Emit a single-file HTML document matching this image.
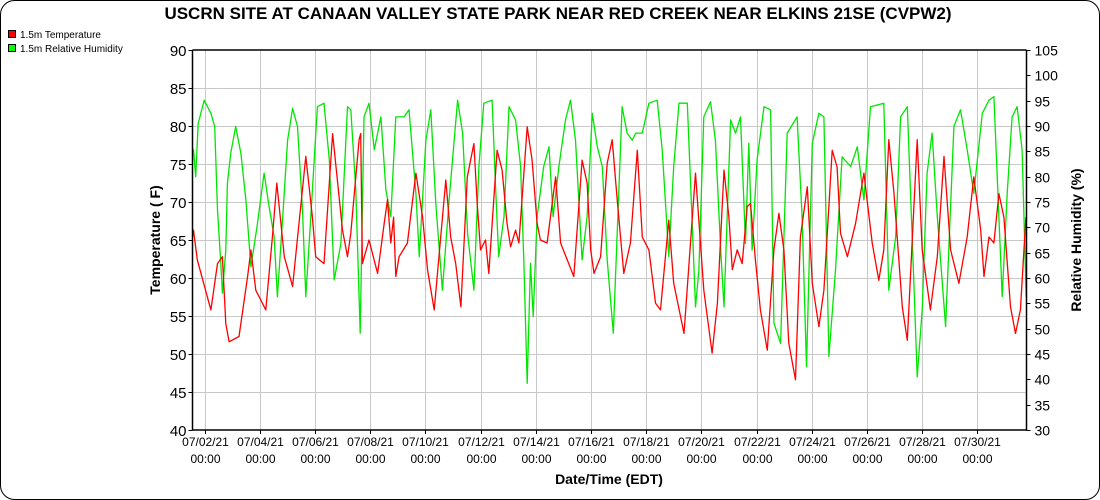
<!DOCTYPE html>
<html><head><meta charset="utf-8">
<style>
html,body{margin:0;padding:0;background:#fff;}
#wrap{position:relative;width:1100px;height:500px;overflow:hidden;}
svg text{font-family:"Liberation Sans",Arial,sans-serif;}
</style></head>
<body>
<div id="wrap">
<svg id="chart" width="1100" height="500" xmlns="http://www.w3.org/2000/svg">
  <rect x="0.5" y="0.5" width="1099" height="499" rx="14" ry="14" fill="#fff" stroke="#000" stroke-width="1"/>
  <text x="558" y="19" text-anchor="middle" font-size="17" font-weight="bold">USCRN SITE AT CANAAN VALLEY STATE PARK NEAR RED CREEK NEAR ELKINS 21SE (CVPW2)</text>
  <g>
    <g>
      <rect x="8.5" y="30.5" width="7" height="7" fill="#f00" stroke="#000" stroke-width="1"/>
      <text x="20" y="38" font-size="10">1.5m Temperature</text>
    </g>
    <g>
      <rect x="8.5" y="44.5" width="7" height="7" fill="#0f0" stroke="#000" stroke-width="1"/>
      <text x="20" y="52" font-size="10">1.5m Relative Humidity</text>
    </g>
  </g>
  <g id="grid"></g>
  <g id="series"></g>
  <g id="axes"></g>
  <text transform="translate(160,240) rotate(-90)" text-anchor="middle" font-size="14" font-weight="bold">Temperature ( F)</text>
  <text transform="translate(1081,240) rotate(-90)" text-anchor="middle" font-size="14" font-weight="bold">Relative Humidity (%)</text>
  <text x="609" y="484" text-anchor="middle" font-size="14" font-weight="bold">Date/Time (EDT)</text>
</svg>
</div>
<script>
// days since 07/01/21 00:00
const tempDays = [0.57,0.60,0.74,1.23,1.47,1.65,1.77,1.89,2.25,2.56,2.68,2.86,3.22,3.46,3.62,3.89,4.19,4.67,4.91,5.03,5.33,5.64,6.00,6.18,6.30,6.60,6.66,6.72,6.96,7.27,7.51,7.63,7.75,7.85,7.93,8.05,8.35,8.66,8.90,9.08,9.32,9.74,9.92,10.10,10.29,10.52,10.76,10.88,11.00,11.18,11.30,11.60,11.78,11.96,12.09,12.27,12.39,12.69,12.87,13.05,13.17,13.41,13.72,13.90,14.14,14.38,14.68,14.86,14.99,15.11,15.35,15.59,15.77,15.95,16.19,16.43,16.68,16.86,17.10,17.34,17.52,17.82,18.00,18.25,18.37,18.79,19.09,19.39,19.58,19.82,20.00,20.12,20.30,20.48,20.66,20.78,20.96,21.14,21.39,21.63,21.81,21.99,22.17,22.41,22.59,22.84,23.02,23.26,23.44,23.74,23.92,24.04,24.29,24.59,24.89,25.19,25.43,25.61,25.79,25.98,26.28,26.46,26.82,27.00,27.30,27.55,27.79,28.03,28.33,28.63,28.87,29.12,29.24,29.42,29.60,29.78,29.96,30.20,30.38,30.56,30.76];
const tempVals = [65.5,66.3,62.4,55.8,61.9,62.8,54.0,51.6,52.3,60.2,63.7,58.4,55.8,65.4,72.5,62.8,58.9,76.0,68.0,62.8,61.9,79.0,66.3,62.8,65.9,78.2,79.0,61.9,65.0,60.6,67.2,70.3,64.6,68.0,60.2,62.8,64.6,73.8,68.0,61.1,55.8,72.9,65.4,61.9,56.2,73.3,77.7,69.8,63.7,65.0,60.6,76.8,74.2,67.2,64.1,66.3,64.6,79.9,75.5,67.2,65.0,64.6,73.3,64.6,62.4,60.2,75.5,72.5,63.7,60.6,62.8,75.1,78.2,70.3,60.6,64.6,76.8,65.4,63.7,56.7,55.8,67.6,59.3,54.9,52.7,73.8,58.4,50.1,56.7,74.2,68.0,61.1,63.7,61.9,69.4,69.8,62.4,55.8,50.5,63.7,68.5,63.7,51.4,46.6,65.4,72.0,59.3,53.6,58.4,76.8,74.6,65.9,62.8,67.2,73.8,64.6,59.7,63.7,78.2,71.1,56.2,51.8,78.2,63.7,55.8,62.8,76.0,63.7,59.3,65.4,73.3,66.3,60.2,65.4,64.6,71.1,68.0,56.2,52.7,55.8,68.0];
const rhDays = [0.57,0.60,0.68,0.77,0.99,1.23,1.37,1.47,1.59,1.65,1.77,1.83,1.95,2.13,2.32,2.50,2.68,2.92,3.16,3.34,3.52,3.64,3.82,4.01,4.19,4.37,4.55,4.67,4.85,5.09,5.33,5.52,5.70,5.94,6.18,6.30,6.48,6.64,6.78,6.96,7.15,7.39,7.57,7.75,7.93,8.23,8.41,8.66,8.78,9.02,9.20,9.38,9.62,9.86,10.17,10.35,10.53,10.76,10.94,11.12,11.42,11.54,11.66,11.85,12.03,12.27,12.45,12.57,12.69,12.81,12.91,13.05,13.29,13.48,13.63,13.84,14.08,14.26,14.44,14.68,14.86,15.05,15.23,15.41,15.59,15.81,15.95,16.13,16.31,16.50,16.62,16.86,17.10,17.40,17.58,17.82,18.00,18.19,18.49,18.67,18.79,18.91,19.09,19.33,19.51,19.70,19.82,20.06,20.24,20.42,20.60,20.72,20.84,21.02,21.27,21.51,21.63,21.87,22.11,22.47,22.65,22.81,23.02,23.26,23.44,23.62,23.86,24.10,24.41,24.65,24.89,25.13,25.61,25.79,26.04,26.22,26.46,26.70,26.82,27.00,27.18,27.36,27.55,27.85,28.15,28.39,28.63,28.87,29.18,29.42,29.60,29.90,30.08,30.26,30.44,30.62,30.77];
const rhVals = [84.0,85.3,80.0,90.5,95.1,92.5,89.9,73.4,62.9,57.0,65.5,78.7,84.6,89.9,84.6,75.4,62.2,70.8,80.7,74.1,68.2,56.3,70.8,87.2,93.5,89.9,73.4,56.3,72.1,93.8,94.5,83.3,59.6,66.8,93.8,93.2,77.4,49.1,91.8,94.5,85.3,91.8,77.4,72.1,91.8,91.8,93.2,76.7,64.2,87.2,93.2,74.7,57.6,75.4,95.1,88.6,68.8,57.6,82.0,94.5,95.1,78.7,64.2,72.1,93.8,91.2,82.0,62.9,39.2,62.9,52.4,72.1,82.0,85.9,72.1,82.0,91.2,95.1,87.2,63.6,72.1,92.5,85.9,82.0,63.6,49.1,68.8,93.8,88.6,87.2,88.6,88.6,94.5,95.1,85.3,64.2,82.0,94.5,94.5,70.8,54.3,61.6,91.8,94.8,87.2,65.5,54.3,91.2,88.6,91.8,66.8,86.6,65.5,83.3,93.8,93.2,51.1,47.1,88.6,91.8,72.1,42.5,86.6,92.5,91.8,44.5,61.6,83.9,82.0,85.9,75.4,93.8,94.5,57.6,68.2,91.8,93.8,58.9,40.5,53.7,80.7,88.6,72.1,50.4,89.9,93.2,85.3,76.7,92.5,95.1,95.8,56.3,76.7,91.8,93.8,85.3,56.3];
const leftTicks = [40,45,50,55,60,65,70,75,80,85,90];
const rightTicks = [30,35,40,45,50,55,60,65,70,75,80,85,90,95,100,105];
const xTickDays = [1,3,5,7,9,11,13,15,17,19,21,23,25,27,29];
const xTickLabels = ["07/02/21","07/04/21","07/06/21","07/08/21","07/10/21","07/12/21","07/14/21","07/16/21","07/18/21","07/20/21","07/22/21","07/24/21","07/26/21","07/28/21","07/30/21"];

const NS = "http://www.w3.org/2000/svg";
const L = 192.5, R = 1026.5, T = 50, B = 430;
const D0 = 0.565, D1 = 30.78;
function xs(d){ return L + (d - D0) / (D1 - D0) * (R - L); }
function yl(v){ return B - (v - 40) / 50 * (B - T); }
function yr(v){ return B - (v - 30) / 75 * (B - T); }
function mk(tag, attrs, parent){ const e = document.createElementNS(NS, tag); for (const k in attrs) e.setAttribute(k, attrs[k]); parent.appendChild(e); return e; }

const grid = document.getElementById('grid');
const axes = document.getElementById('axes');
const series = document.getElementById('series');

leftTicks.forEach(v => {
  const y = Math.round(yl(v)) + 0.5;
  if (v > 40 && v < 90) {
    const g = mk('line', {x1:L, x2:R, y1:y, y2:y, stroke:'#c8c8c8', 'stroke-width':1}, grid);
    
    
  }
  mk('line', {x1:L-4, x2:L, y1:y, y2:y, stroke:'#000'}, axes);
  const t = mk('text', {x:L-6, y:y+5.5, 'text-anchor':'end', 'font-size':15}, axes);
  t.textContent = v;
  
  
});
rightTicks.forEach(v => {
  const y = Math.round(yr(v)) + 0.5;
  mk('line', {x1:R, x2:R+4, y1:y, y2:y, stroke:'#000'}, axes);
  const t = mk('text', {x:R+8, y:y+5, 'font-size':14}, axes);
  t.textContent = v;
  
  
});
xTickDays.forEach((d, i) => {
  const x = Math.round(xs(d)) + 0.5;
  const g = mk('line', {x1:x, x2:x, y1:T, y2:B, stroke:'#c8c8c8', 'stroke-width':1}, grid);
  
  
  mk('line', {x1:x, x2:x, y1:B, y2:B+4, stroke:'#000'}, axes);
  const t1 = mk('text', {x:x, y:446, 'text-anchor':'middle', 'font-size':12}, axes);
  t1.textContent = xTickLabels[i];
  
  
  const t2 = mk('text', {x:x, y:463, 'text-anchor':'middle', 'font-size':12}, axes);
  t2.textContent = "00:00";
  
  
});
const frame = mk('path', {d:`M${L},${T} L${R},${T} M${L},${T} L${L},${B} L${R},${B} L${R},${T}`, fill:'none', stroke:'#000', 'stroke-width':1.5}, axes);



function line(days, vals, yf, color, name){
  const d = days.map((dd, i) => (i ? 'L' : 'M') + xs(dd).toFixed(1) + ',' + yf(vals[i]).toFixed(1)).join(' ');
  const p = mk('path', {d:d, fill:'none', stroke:color, 'stroke-width':1.3, 'stroke-linejoin':'round'}, series);
  
  
}
line(rhDays, rhVals, yr, '#00e600', 'humidity-line');
line(tempDays, tempVals, yl, '#ff0000', 'temperature-line');
</script>
</body></html>
